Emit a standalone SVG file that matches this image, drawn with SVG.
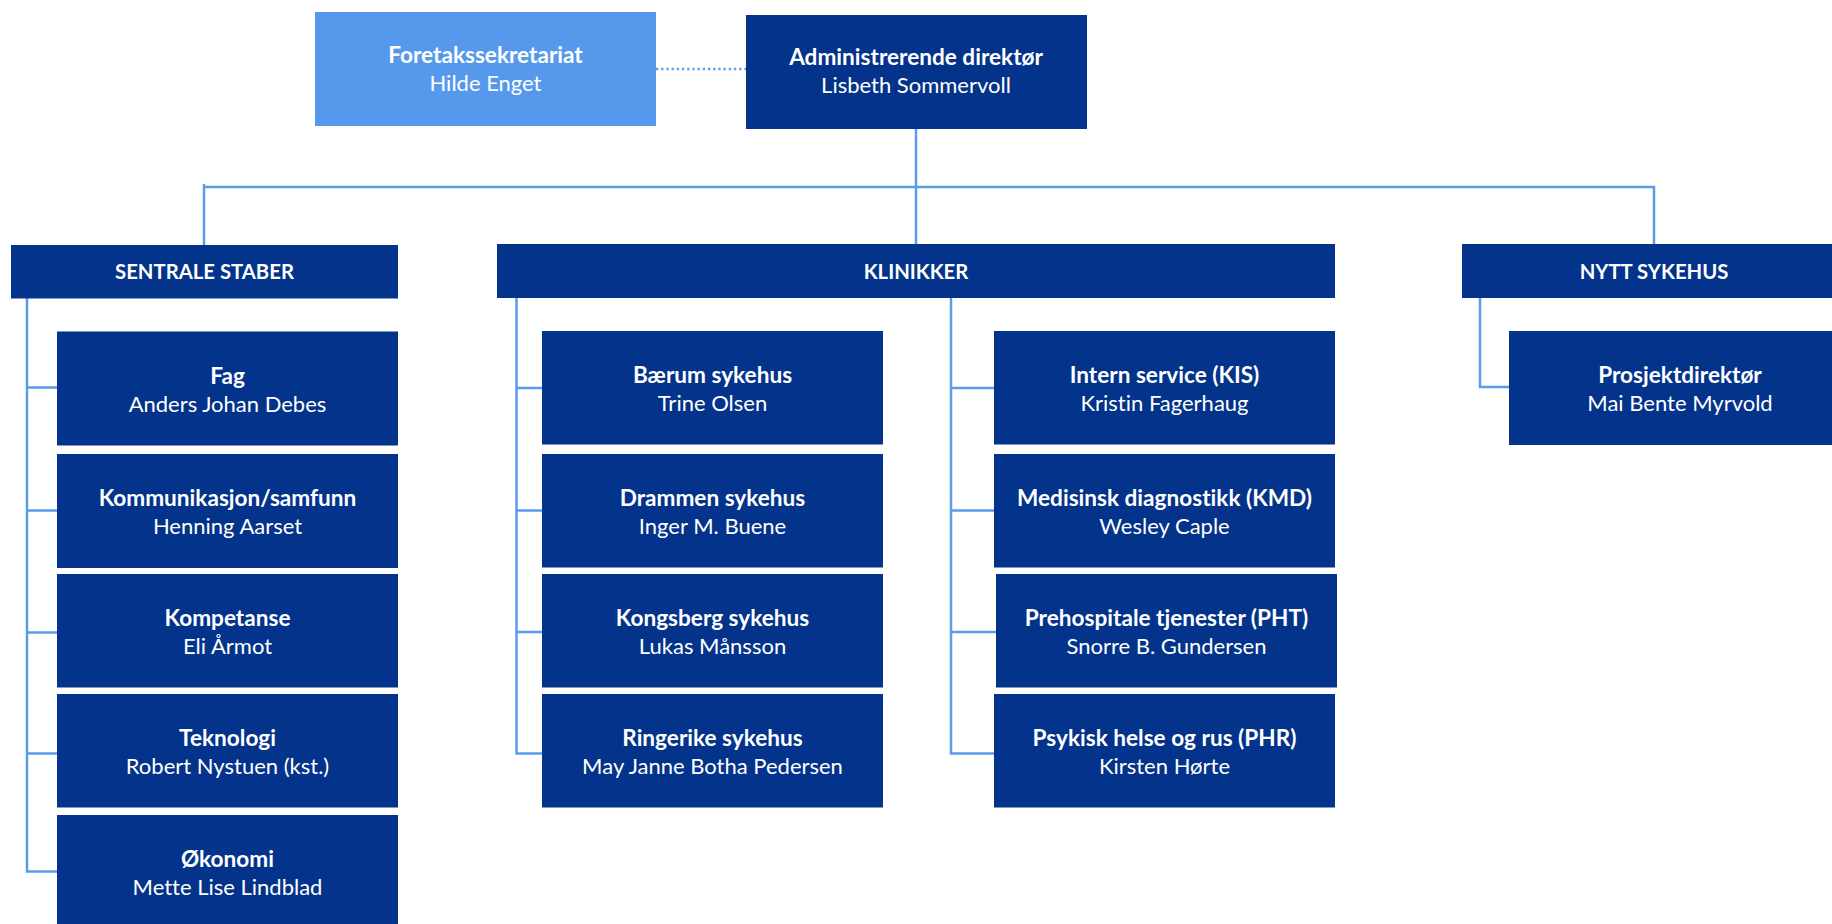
<svg xmlns="http://www.w3.org/2000/svg" width="1832" height="924" viewBox="0 0 1832 924">
<style>
.box{fill:#03338A}
.lbox{fill:#5699EC}
.t{font-family:Lato,"Liberation Sans","DejaVu Sans",sans-serif;font-size:22px;fill:#FFFFFF;text-anchor:middle;font-variant-ligatures:none;font-feature-settings:"liga" 0,"clig" 0,"dlig" 0}
.b{font-weight:bold;font-size:22.6px}
.h{font-weight:bold;font-size:20.3px}
.ln{fill:none;stroke:#5B9BEB;stroke-width:2.5}
.dot{fill:none;stroke:#5B9BEB;stroke-width:2.5;stroke-dasharray:2.2 3}
</style>
<rect width="1832" height="924" fill="#FFFFFF"/>
<g id="connectors">
<line class="dot" x1="656" y1="69" x2="746" y2="69"/>
<path class="ln" d="M916 128.5V244"/>
<path class="ln" d="M204 245V184M204 187H1654V244"/>
<path class="ln" d="M27 298V871.5H57M27 387.5H57M27 510.5H57M27 632.5H57M27 753.5H57"/>
<path class="ln" d="M516.5 297.5V753.5H542M516.5 388H542M516.5 510.5H542M516.5 632H542"/>
<path class="ln" d="M951 297.5V753.5H994M951 388H994M951 510.5H994M951 632H996"/>
<path class="ln" d="M1480 297.5V387H1509"/>
</g>
<g id="foretakssekretariat">
<rect class="lbox" x="315" y="12" width="341" height="114"/>
<text class="t b" x="485.5" y="62.5">Foretakssekretariat</text>
<text class="t" x="485.5" y="90.5">Hilde Enget</text>
</g>
<g id="administrerende">
<rect class="box" x="746" y="15" width="341" height="114"/>
<text class="t b" x="916" y="64.5">Administrerende direktør</text>
<text class="t" x="916" y="93">Lisbeth Sommervoll</text>
</g>
<g id="sentrale">
<rect class="box" x="11" y="245" width="387" height="53.5"/>
<text class="t h" x="204.5" y="279">SENTRALE STABER</text>
</g>
<g id="klinikker">
<rect class="box" x="497" y="244" width="838" height="54"/>
<text class="t h" x="916" y="279">KLINIKKER</text>
</g>
<g id="nytt">
<rect class="box" x="1462" y="244" width="384" height="54"/>
<text class="t h" x="1654" y="279">NYTT SYKEHUS</text>
</g>
<g id="fag">
<rect class="box" x="57" y="331.5" width="341" height="114"/>
<text class="t b" x="227.5" y="383.5">Fag</text>
<text class="t" x="227.5" y="411.5">Anders Johan Debes</text>
</g>
<g id="kommunikasjon">
<rect class="box" x="57" y="454" width="341" height="114"/>
<text class="t b" x="227.5" y="506">Kommunikasjon/samfunn</text>
<text class="t" x="227.5" y="534">Henning Aarset</text>
</g>
<g id="kompetanse">
<rect class="box" x="57" y="574" width="341" height="113.5"/>
<text class="t b" x="227.5" y="626">Kompetanse</text>
<text class="t" x="227.5" y="654">Eli Årmot</text>
</g>
<g id="teknologi">
<rect class="box" x="57" y="694" width="341" height="113.5"/>
<text class="t b" x="227.5" y="746">Teknologi</text>
<text class="t" x="227.5" y="774">Robert Nystuen (kst.)</text>
</g>
<g id="okonomi">
<rect class="box" x="57" y="815" width="341" height="114"/>
<text class="t b" x="227.5" y="867">Økonomi</text>
<text class="t" x="227.5" y="895">Mette Lise Lindblad</text>
</g>
<g id="baerum">
<rect class="box" x="542" y="331" width="341" height="113.5"/>
<text class="t b" x="712.5" y="382.5">Bærum sykehus</text>
<text class="t" x="712.5" y="410.5">Trine Olsen</text>
</g>
<g id="drammen">
<rect class="box" x="542" y="454" width="341" height="113.5"/>
<text class="t b" x="712.5" y="505.5">Drammen sykehus</text>
<text class="t" x="712.5" y="533.5">Inger M. Buene</text>
</g>
<g id="kongsberg">
<rect class="box" x="542" y="574" width="341" height="113.5"/>
<text class="t b" x="712.5" y="625.5">Kongsberg sykehus</text>
<text class="t" x="712.5" y="653.5">Lukas Månsson</text>
</g>
<g id="ringerike">
<rect class="box" x="542" y="694" width="341" height="113.5"/>
<text class="t b" x="712.5" y="745.5">Ringerike sykehus</text>
<text class="t" x="712.5" y="773.5">May Janne Botha Pedersen</text>
</g>
<g id="intern">
<rect class="box" x="994" y="331" width="341" height="113.5"/>
<text class="t b" x="1164.5" y="382.5">Intern service (KIS)</text>
<text class="t" x="1164.5" y="410.5">Kristin Fagerhaug</text>
</g>
<g id="medisinsk">
<rect class="box" x="994" y="454" width="341" height="113.5"/>
<text class="t b" x="1164.5" y="505.5">Medisinsk diagnostikk (KMD)</text>
<text class="t" x="1164.5" y="533.5">Wesley Caple</text>
</g>
<g id="prehospitale">
<rect class="box" x="996" y="574" width="341" height="113.5"/>
<text class="t b" x="1166.5" y="625.5">Prehospitale tjenester (PHT)</text>
<text class="t" x="1166.5" y="653.5">Snorre B. Gundersen</text>
</g>
<g id="psykisk">
<rect class="box" x="994" y="694" width="341" height="113.5"/>
<text class="t b" x="1164.5" y="745.5">Psykisk helse og rus (PHR)</text>
<text class="t" x="1164.5" y="773.5">Kirsten Hørte</text>
</g>
<g id="prosjektdirektor">
<rect class="box" x="1509" y="331" width="342" height="114"/>
<text class="t b" x="1680" y="382.5">Prosjektdirektør</text>
<text class="t" x="1680" y="410.5">Mai Bente Myrvold</text>
</g>
</svg>
